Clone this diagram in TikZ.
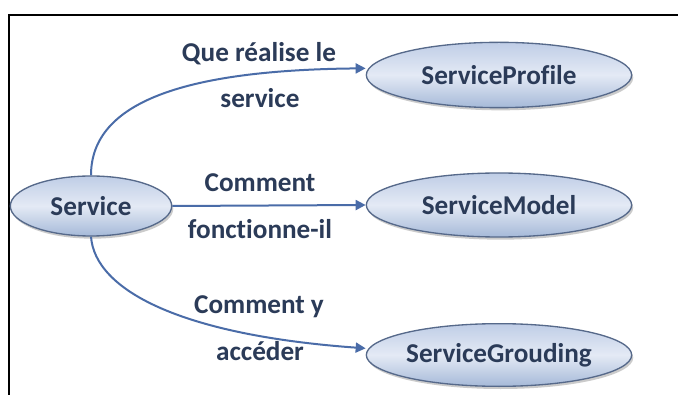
\documentclass[tikz,border=0pt]{standalone}
\usepackage{fontspec}
\setmainfont[Ligatures=NoCommon]{Carlito}
\usetikzlibrary{shapes.geometric,shadows,arrows.meta}
\definecolor{txt}{HTML}{2B3B58}
\definecolor{edgec}{HTML}{4A6CA8}
\definecolor{bord}{HTML}{56698A}
\definecolor{topc}{HTML}{BFCDE6}
\definecolor{midc}{HTML}{E4EAF5}
\definecolor{botc}{HTML}{A5B9D8}
\tikzset{
  oval/.style={ellipse, draw=bord, line width=1pt, top color=topc, bottom color=botc, middle color=midc,
    drop shadow={shadow xshift=1.2pt, shadow yshift=-2pt, fill=black!40, opacity=0.5},
    text=txt, font=\fontsize{20.4}{24}\selectfont\bfseries, inner sep=0pt},
  lbl/.style={text=txt, font=\fontsize{20.4}{24}\selectfont\bfseries, anchor=base, inner sep=0pt},
  conn/.style={draw=edgec, line width=1.5pt, -{Triangle[length=7.5pt,width=7.5pt]}},
}
\begin{document}
\begin{tikzpicture}[x=0.75pt,y=-0.75pt]
\useasboundingbox (0,0) rectangle (678,395);
\fill[white] (0,0) rectangle (678,395);
\draw[black, line width=1.5pt] (9,396) -- (9,15) -- (679,15);
\node[oval, minimum width=121pt, minimum height=45pt] (S) at (91,206) {Service};
\node[oval, minimum width=199pt, minimum height=49pt] (SP) at (499,75) {ServiceProfile};
\node[oval, minimum width=199pt, minimum height=48pt] (SM) at (499,205) {ServiceModel};
\node[oval, minimum width=199pt, minimum height=47pt] (SG) at (499,355) {ServiceGrouding};
\coordinate (e1) at ([yshift=5pt]SP.west);
\coordinate (e3) at ([yshift=5pt]SG.west);
\draw[conn] (S.north) .. controls (91,100) and (190,70) .. (e1);
\draw[conn] (S.east) -- (SM.west);
\draw[conn] (S.south) .. controls (95,290) and (180,335) .. (e3);
\node[lbl] (l1a) at (259,62) {Que réalise le};
\node[lbl] (l1b) at (260,108) {service};
\node[lbl] (l2a) at (260,192) {Comment};
\node[lbl] (l2b) at (260,239) {fonctionne-il};
\node[lbl] (l3a) at (259,313) {Comment y};
\node[lbl] (l3b) at (260,360) {accéder};
\end{tikzpicture}
\end{document}
